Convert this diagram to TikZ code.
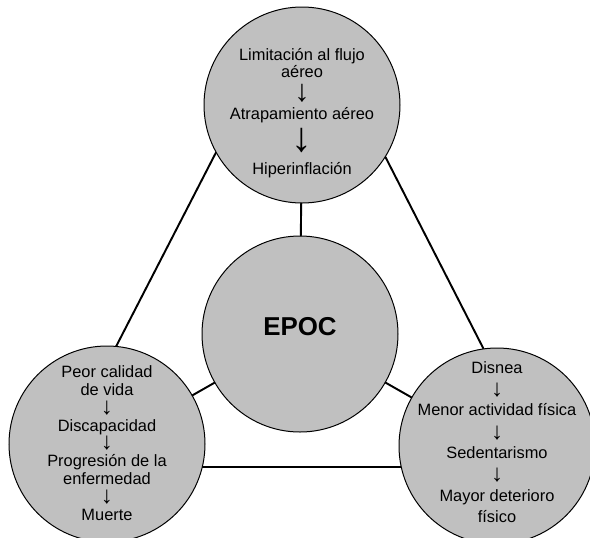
\documentclass[tikz,border=0pt]{standalone}
\usepackage{fontspec}
\setmainfont{Liberation Sans}
\usetikzlibrary{backgrounds}
\definecolor{bubblegray}{RGB}{192,192,192}
\newcommand{\dnarrow}[3][]{\raisebox{#3}{\smash{\fontsize{#2}{#2}\selectfont#1↓}}}
\begin{document}
\begin{tikzpicture}[x=0.75pt,y=-0.75pt,
  bubble/.style={circle,draw=black,line width=0.75pt,fill=bubblegray,minimum size=147pt,inner sep=0pt},
  txt/.style={align=center,inner sep=0pt,font=\fontsize{12.3}{13.35}\selectfont},
  link/.style={line width=1.45pt,line cap=round}]
\useasboundingbox (0,0) rectangle (590,537);
% circles
\node[bubble] (t) at (302,105) {};
\node[bubble] (c) at (300,334) {};
\node[bubble] (l) at (107,444) {};
\node[bubble] (r) at (497,446) {};
% triangle corners
\coordinate (tb) at (54,467);
\coordinate (tc) at (544,467);
\begin{pgfonlayer}{background}
  \draw[link] (t.209) -- (tb);
  \draw[link] (t.328) -- (tc);
  \draw[link] (tb) -- (tc);
\end{pgfonlayer}
% spokes
\draw[link] (c) -- (t);
\draw[link] (c) -- (l);
\draw[link] (c) -- (r);
% texts
\node[txt,font=\fontsize{12.3}{12.75}\selectfont] (ttxt) at (302,113) {Limitación al flujo\\ aéreo\\[3pt] \dnarrow{23}{-2.5pt}\\[3pt] Atrapamiento aéreo\\[6.75pt] \dnarrow[\bfseries]{31}{-4.5pt}\\[6.75pt] Hiperinflación};
\node[txt] (ctxt) at (300,327) {\fontsize{19.4}{22}\selectfont\bfseries EPOC};
\node[txt] (ltxt) at (107,443) {Peor calidad\\ de vida\\ \dnarrow{18}{-0.8pt}\\ Discapacidad\\ \dnarrow{18}{-0.8pt}\\ Progresión de la\\ enfermedad\\ \dnarrow{18}{-0.8pt}\\ Muerte};
\node[txt,font=\fontsize{12.3}{16}\selectfont] (rtxt) at (497,442) {Disnea\\ \dnarrow{18}{-1.5pt}\\ Menor actividad física\\ \dnarrow{18}{-1.5pt}\\ Sedentarismo\\ \dnarrow{18}{-1.5pt}\\ Mayor deterioro\\ físico};
\end{tikzpicture}
\end{document}
